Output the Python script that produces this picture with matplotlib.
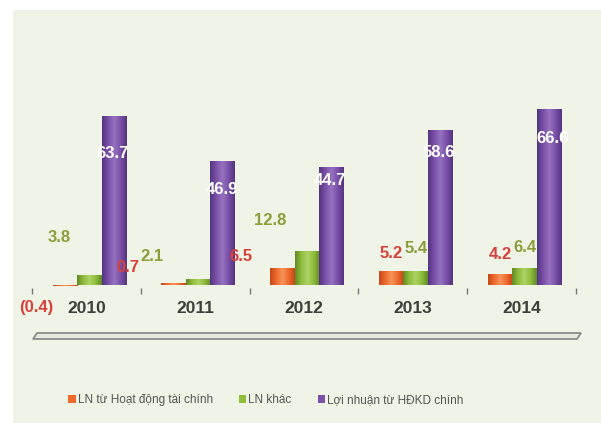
import matplotlib.pyplot as plt
import numpy as np
from matplotlib.colors import LinearSegmentedColormap
from matplotlib.patches import Polygon, Rectangle

plt.rcParams["font.family"] = ["Liberation Sans", "DejaVu Sans"]

years = ["2010", "2011", "2012", "2013", "2014"]
ln_tai_chinh = [-0.4, 0.7, 6.5, 5.2, 4.2]
ln_khac = [3.8, 2.1, 12.8, 5.4, 6.4]
ln_hdkd = [63.7, 46.9, 44.7, 58.6, 66.6]

series_names = ["LN từ Hoạt động tài chính", "LN khác", "Lợi nhuận từ HĐKD chính"]
bar_labels_tc = ["(0.4)", "0.7", "6.5", "5.2", "4.2"]
bar_labels_khac = ["3.8", "2.1", "12.8", "5.4", "6.4"]
bar_labels_hdkd = ["63.7", "46.9", "44.7", "58.6", "66.6"]

# label offsets in pixels from the bar top (hand placed in the original)
off_tc = [(-29, -23), (-46, 16), (-42, 11), (0, 18), (0, 19)]
off_khac = [(-30, 37), (-46, 23), (-37, 31), (0, 22), (0, 21)]
off_hdkd = [(-1, -37), (-1, -29), (-1, -14), (-1, -23), (4, -30)]

W, H = 601, 423
fig = plt.figure(figsize=(W / 100, H / 100), dpi=100)
fig.patch.set_facecolor("white")

# light green panel behind the chart
fig.patches.append(Rectangle((13 / W, 0), 1 - 13 / W, 1 - 10 / H, transform=fig.transFigure,
                             facecolor="#eff4e7", edgecolor="none", zorder=-10))

# 3D floor under the categories
floor_px = [(37, 333), (581, 333), (577, 339), (33, 339)]
fig.patches.append(Polygon([(x / W, 1 - y / H) for x, y in floor_px], closed=True,
                           transform=fig.transFigure, facecolor="#e6e8e2",
                           edgecolor="#8c8c8c", lw=1.3, zorder=-5))

ax = fig.add_axes([32 / W, (H - 287.6) / H, 544 / W, 188 / H])
ax.set_facecolor("none")
for s in ax.spines.values():
    s.set_visible(False)

x = np.arange(len(years))
bw = 0.225
shift = 0.027
colors = ["#ef6a2c", "#8fbd3c", "#7a50a8"]
darks = ["#c4481a", "#628a24", "#553580"]
lights = ["#f7945a", "#aed266", "#9572c0"]

groups = [
    (ln_tai_chinh, bar_labels_tc, off_tc, "#d9403a"),
    (ln_khac, bar_labels_khac, off_khac, "#8c9d3c"),
    (ln_hdkd, bar_labels_hdkd, off_hdkd, "white"),
]

grad = np.linspace(0, 1, 64).reshape(1, -1)

for k, (vals, labels, offs, tcolor) in enumerate(groups):
    pos = x + shift + (k - 1) * bw
    bars = ax.bar(pos, vals, width=bw, color=colors[k], edgecolor="none",
                  label=series_names[k], zorder=2)
    cmap = LinearSegmentedColormap.from_list(
        f"cyl{k}", [darks[k], colors[k], lights[k], colors[k], darks[k]])
    for b in bars:
        x0, y0 = b.get_x(), b.get_y()
        im = ax.imshow(grad, cmap=cmap, aspect="auto", zorder=2.1,
                       extent=(x0, x0 + b.get_width(), y0, y0 + b.get_height()))
        im.set_clip_path(b)
    for b, lab, (dx, dy) in zip(bars, labels, offs):
        top = b.get_height() if b.get_height() >= 0 else 0
        ax.annotate(lab, (b.get_x() + b.get_width() / 2, top), xytext=(dx, dy),
                    textcoords="offset pixels", ha="center", va="center",
                    fontsize=12, fontweight="bold", color=tcolor, zorder=3,
                    annotation_clip=False)

ax.set_xlim(-0.5, 4.5)
ax.set_ylim(-1, 70)
ax.set_yticks([])
ax.set_xticks(x)
ax.set_xticklabels(years, fontsize=12.5, fontweight="bold", color="#3b403b")
ax.tick_params(axis="x", which="major", length=0, pad=10)
ax.set_xticks(np.arange(-0.5, 5, 1), minor=True)
ax.tick_params(axis="x", which="minor", length=4, width=1, color="#777777", direction="out")

fig.legend(loc="center", bbox_to_anchor=(266 / W, 1 - 400 / H), ncol=3, frameon=False,
           fontsize=8.5, labelcolor="#555555", handlelength=0.6, handleheight=0.6,
           handletextpad=0.2, columnspacing=2.2)

fig.savefig("out.png", dpi=100)
